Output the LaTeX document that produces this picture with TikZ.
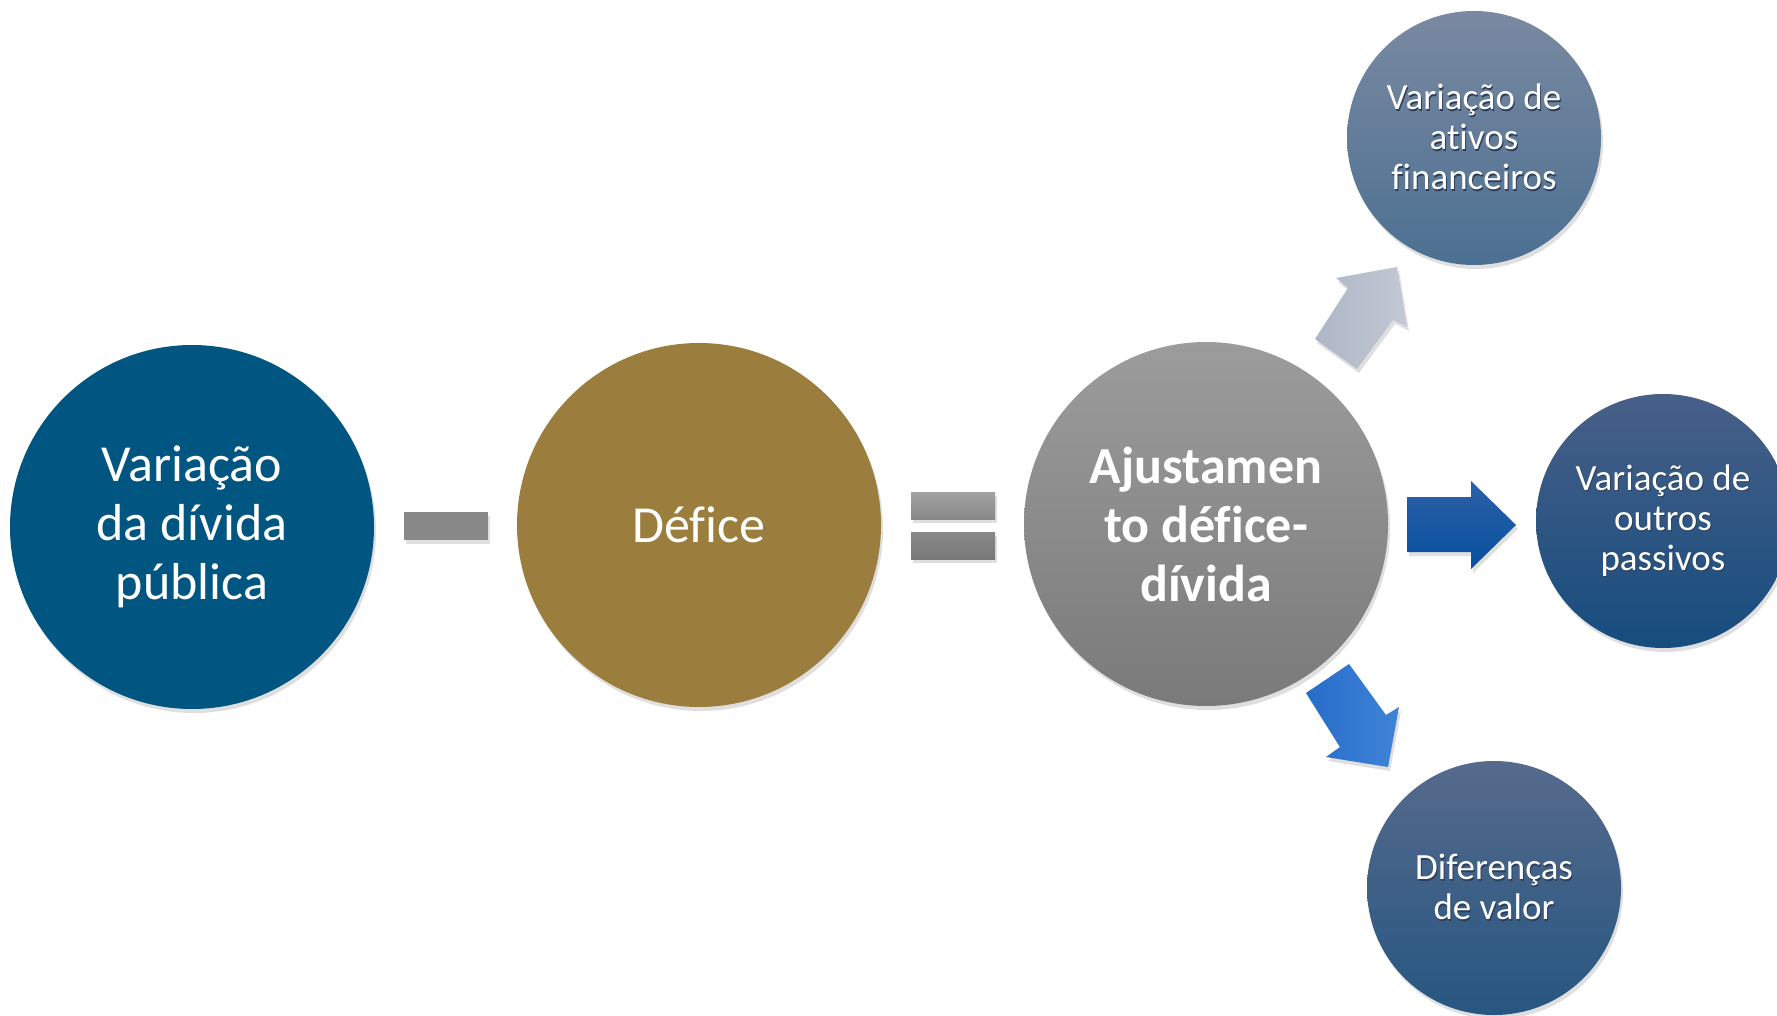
\documentclass[tikz,border=0pt]{standalone}
\usepackage{fontspec}
\setmainfont{Carlito}[Ligatures=NoCommon]
\usetikzlibrary{shadows}
\definecolor{cBlue}{RGB}{0,85,129}
\definecolor{cGold}{RGB}{155,125,62}
\definecolor{gTop}{RGB}{156,156,156}
\definecolor{gBot}{RGB}{122,122,122}
\definecolor{s1Top}{RGB}{122,137,161}
\definecolor{s1Bot}{RGB}{76,112,146}
\definecolor{s2Top}{RGB}{72,96,136}
\definecolor{s2Bot}{RGB}{22,76,126}
\definecolor{s3Top}{RGB}{86,106,140}
\definecolor{s3Bot}{RGB}{38,86,128}
\definecolor{barA}{RGB}{162,162,162}
\definecolor{barB}{RGB}{136,136,136}
\definecolor{barC}{RGB}{120,120,120}
\definecolor{arUpA}{RGB}{174,182,198}
\definecolor{arUpB}{RGB}{194,200,212}
\definecolor{arRtA}{RGB}{44,96,166}
\definecolor{arRtB}{RGB}{6,80,160}
\definecolor{arDnA}{RGB}{38,108,202}
\definecolor{arDnB}{RGB}{64,132,216}
\definecolor{tShadow}{RGB}{45,62,90}
\newcommand\tsh[1]{\leavevmode\rlap{\hspace{1pt}\raisebox{-1.5pt}{\textcolor{tShadow}{#1}}}#1}
\begin{document}
\begin{tikzpicture}[x=1pt,y=-1pt,
  shd/.style={drop shadow={opacity=0.25, shadow xshift=2pt, shadow yshift=-4pt}},
  bigc/.style={circle, minimum size=364pt, inner sep=0pt, text=white, align=center,
    font=\fontsize{52}{59}\selectfont, shd},
  smallc/.style={circle, minimum size=254pt, inner sep=0pt, text=white, align=center,
    font=\fontsize{37}{40}\selectfont, shd},
  barshape/.style={shd},
  blockarrow/.style={shd}
]
\useasboundingbox (0,0) rectangle (1777,1016);
\clip (0,0) rectangle (1777,1016);

% main circles
\node[bigc, fill=cBlue] (c1) at (192,527) {Variação\\da dívida\\pública};
\node[bigc, fill=cGold] (c2) at (699,525) {Défice};
\node[bigc, top color=gTop, bottom color=gBot, font=\fontsize{52}{59}\selectfont\bfseries] (c3) at (1206,524) {Ajustamen\\to défice-\\dívida};

% satellite circles
\node[smallc, top color=s1Top, bottom color=s1Bot] (s1) at (1474,138) {\tsh{Variação de}\\\tsh{ativos}\\\tsh{financeiros}};
\node[smallc, top color=s2Top, bottom color=s2Bot] (s2) at (1663,521) {\tsh{Variação de}\\\tsh{outros}\\\tsh{passivos}};
\node[smallc, top color=s3Top, bottom color=s3Bot] (s3) at (1494,888) {\tsh{Diferenças}\\\tsh{de valor}};

% minus sign
\path[barshape, fill=barB] (404,512) rectangle (488,540);
% equals sign
\path[barshape, top color=barA, bottom color=barB] (911,492) rectangle (995,519);
\path[barshape, top color=barB, bottom color=barC] (911,532) rectangle (995,559);

% block arrows
\path[blockarrow, left color=arUpA, right color=arUpB]
  (1315,339) -- (1357,369) -- (1393,320) -- (1407,327) -- (1397,267) -- (1336,278) -- (1348,288) -- cycle;
\path[blockarrow, top color=arRtA, bottom color=arRtB]
  (1407,497) -- (1471,497) -- (1471,481) -- (1516,525) -- (1471,569) -- (1471,552) -- (1407,552) -- cycle;
\path[blockarrow, left color=arDnA, right color=arDnB]
  (1306,693) -- (1349,664) -- (1386,715) -- (1399,707) -- (1388,767) -- (1326,757) -- (1340,747) -- cycle;
\end{tikzpicture}
\end{document}
